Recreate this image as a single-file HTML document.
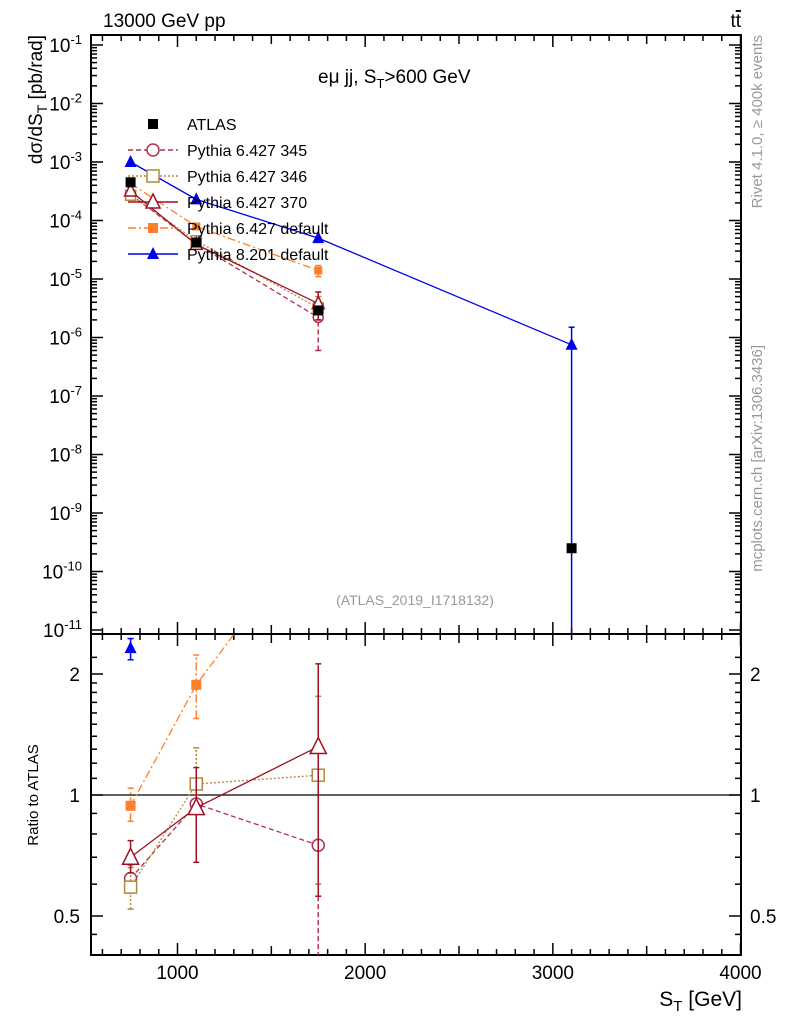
<!DOCTYPE html>
<html><head><meta charset="utf-8"><style>
body{margin:0;background:#fff;}
svg{display:block;font-family:"Liberation Sans",sans-serif;}
</style></head><body>
<svg id="c" width="786" height="1024" xmlns="http://www.w3.org/2000/svg"></svg>
<script>
const xs=[750,1100,1750,3100];
const atlas=[4.5e-4,4.2e-5,2.9e-6,2.5e-10];
const p8=[1.0e-3,2.3e-4,5.0e-5,7.5e-7];
const pdef=[4.3e-4,7.9e-5,1.4e-5];
const p345=[2.8e-4,4.0e-5,2.2e-6];
const p346=[2.7e-4,4.5e-5,3.2e-6];
const p370=[3.2e-4,3.9e-5,3.8e-6];
const rDef=[0.94,1.88,4.8];const rDefLo=[0.86,1.55,4.0];const rDefHi=[1.04,2.23,5.6];
const r345=[0.62,0.95,0.75];const r345Lo=[0.57,0.9,0.3];const r345Hi=[0.67,1.0,1.3];
const r346=[0.59,1.065,1.12];const r346Lo=[0.52,0.95,0.6];const r346Hi=[0.66,1.31,1.76];
const r370=[0.70,0.93,1.32];const r370Lo=[0.64,0.68,0.56];const r370Hi=[0.77,1.17,2.12];
const rP8=[2.32];const rP8Lo=[2.17];const rP8Hi=[2.45];
const svg=document.getElementById('c');
const NS='http://www.w3.org/2000/svg';
function el(t,a,p){const e=document.createElementNS(NS,t);for(const k in a)e.setAttribute(k,a[k]);(p||svg).appendChild(e);return e;}
const L=91,R=741,T=35,MB=634,RB=955;
const X=v=>177.5+(v-1000)*0.18767;
const Y=v=>45+(-1-Math.log10(v))*58.5;
const RY=v=>795-Math.log2(v)*121;
let f=el('rect',{x:L,y:T,width:R-L,height:MB-T,fill:'none',stroke:'#000','stroke-width':2});

f=el('rect',{x:L,y:MB,width:R-L,height:RB-MB,fill:'none',stroke:'#000','stroke-width':2});

for(let v=600;v<=4000;v+=100){const x=X(v);if(x<L+1||x>R+1)continue;const len=v%1000==0?12:(v%500==0?9:6);
 for(const yb of [MB,RB]) el('line',{x1:x,x2:x,y1:yb,y2:yb-len,stroke:'#000','stroke-width':1.5});
 el('line',{x1:x,x2:x,y1:T,y2:T+len,stroke:'#000','stroke-width':1.5});
 el('line',{x1:x,x2:x,y1:MB,y2:MB+len,stroke:'#000','stroke-width':1.5});
 if(v%1000==0){const t=el('text',{x:x,y:979,'font-size':19,'text-anchor':'middle'});t.textContent=v;}}
for(let e=-11;e<=-1;e++){for(let m=1;m<10;m++){const v=m*Math.pow(10,e);const y=Y(v);if(y<T||y>MB)continue;const len=m==1?12:6;
 el('line',{x1:L,x2:L+len,y1:y,y2:y,stroke:'#000','stroke-width':1.5});el('line',{x1:R,x2:R-len,y1:y,y2:y,stroke:'#000','stroke-width':1.5});}
 const t=el('text',{x:82,y:Y(Math.pow(10,e))+7,'font-size':19,'text-anchor':'end'});t.innerHTML='10<tspan dy="-8" font-size="13">'+e+'</tspan>';
 }
const rt=[0.45,0.5,0.6,0.7,0.8,0.9,1,1.1,1.2,1.3,1.4,1.5,1.6,1.7,1.8,1.9,2,2.2];
for(const v of rt){const y=RY(v);if(y<MB||y>RB)continue;const len=(v==0.5||v==1||v==2)?12:6;
 el('line',{x1:L,x2:L+len,y1:y,y2:y,stroke:'#000','stroke-width':1.5});el('line',{x1:R,x2:R-len,y1:y,y2:y,stroke:'#000','stroke-width':1.5});}
for(const v of [0.5,1,2]){for(const [x,a] of [[80,'end'],[750,'start']]){const t=el('text',{x:x,y:RY(v)+7,'font-size':19,'text-anchor':a});t.textContent=v;
 }}
el('line',{x1:L,x2:R,y1:RY(1),y2:RY(1),stroke:'#000','stroke-width':1.3});
const defs=el('defs',{});const c1=el('clipPath',{id:'cm'},defs);el('rect',{x:L,y:T,width:R-L,height:MB-T},c1);
const c2=el('clipPath',{id:'cr'},defs);el('rect',{x:L,y:MB,width:R-L,height:RB-MB},c2);
const gm=el('g',{'clip-path':'url(#cm)'});const gr=el('g',{'clip-path':'url(#cr)'});
function marker(g,type,x,y,col,s){s=s||6;
 if(type=='sq') return el('rect',{x:x-s,y:y-s,width:2*s,height:2*s,fill:col},g);
 if(type=='osq') return el('rect',{x:x-s,y:y-s,width:2*s,height:2*s,fill:'#fff',stroke:col,'stroke-width':1.5},g);
 if(type=='oc') return el('circle',{cx:x,cy:y,r:s,fill:'#fff',stroke:col,'stroke-width':1.5},g);
 if(type=='tri') return el('polygon',{points:`${x},${y-s-1} ${x-s},${y+s-1} ${x+s},${y+s-1}`,fill:col},g);
 if(type=='otri') return el('polygon',{points:`${x},${y-s-2} ${x-s-1},${y+s} ${x+s+1},${y+s}`,fill:'#fff',stroke:col,'stroke-width':1.5},g);}
function series(g,name,xsA,vals,fy,col,dash,type,lo,hi,s){
 const pts=vals.map((v,i)=>X(xsA[i])+','+fy(v)).join(' ');
 const pl=el('polyline',{points:pts,fill:'none',stroke:col,'stroke-width':1.3,'stroke-dasharray':dash},g);
 
 vals.forEach((v,i)=>{const x=X(xsA[i]);
  if(lo){const y1=fy(lo[i]),y2=fy(hi[i]);el('line',{x1:x,x2:x,y1:y1,y2:y2,stroke:col,'stroke-width':1.5,'stroke-dasharray':dash},g);
   el('line',{x1:x-3,x2:x+3,y1:y1,y2:y1,stroke:col,'stroke-width':1.5},g);el('line',{x1:x-3,x2:x+3,y1:y2,y2:y2,stroke:col,'stroke-width':1.5},g);}
  const m=marker(g,type,x,fy(v),col,s);});}
const cDef='#ff7f2a',c345='#b03050',c346='#b08a3a',c370='#a01020',cP8='#0000ee';
series(gm,'pythia8',xs,p8,Y,cP8,'','tri',[1e-3,2.3e-4,5e-5,1e-13],[1e-3,2.3e-4,5e-5,1.5e-6],6);
series(gm,'pythia6-default',xs.slice(0,3),pdef,Y,cDef,'8,3,2,3','sq',[4.3e-4,7.9e-5,1.1e-5],[4.3e-4,7.9e-5,1.7e-5],4);
series(gm,'pythia6-345',xs.slice(0,3),p345,Y,c345,'5,3','oc',[2.8e-4,4e-5,6e-7],[2.8e-4,4e-5,3e-6],5);
series(gm,'pythia6-346',xs.slice(0,3),p346,Y,c346,'2,2','osq',[2.7e-4,4.5e-5,2e-6],[2.7e-4,4.5e-5,5e-6],5);
series(gm,'pythia6-370',xs.slice(0,3),p370,Y,c370,'','otri',[3.2e-4,3.9e-5,2e-6],[3.2e-4,3.9e-5,6e-6],5);
xs.forEach((x,i)=>{const m=marker(gm,'sq',X(x),Y(atlas[i]),'#000',5);});
series(gr,'ratio-pythia8',xs.slice(0,1),rP8,RY,cP8,'','tri',rP8Lo,rP8Hi,6);
series(gr,'ratio-pythia6-default',xs.slice(0,3),rDef,RY,cDef,'8,3,2,3','sq',rDefLo,rDefHi,5);
series(gr,'ratio-pythia6-345',xs.slice(0,3),r345,RY,c345,'5,3','oc',r345Lo,r345Hi,6);
series(gr,'ratio-pythia6-346',xs.slice(0,3),r346,RY,c346,'2,2','osq',r346Lo,r346Hi,6);
series(gr,'ratio-pythia6-370',xs.slice(0,3),r370,RY,c370,'','otri',r370Lo,r370Hi,7);
const leg=[['ATLAS','#000','','sq'],['Pythia 6.427 345',c345,'5,3','oc'],['Pythia 6.427 346',c346,'2,2','osq'],['Pythia 6.427 370',c370,'','otri'],['Pythia 6.427 default',cDef,'8,3,2,3','sq'],['Pythia 8.201 default',cP8,'','tri']];
leg.forEach((l,i)=>{const y=124+i*26;const g=el('g',{});
 if(i>0) el('line',{x1:128,x2:178,y1:y,y2:y,stroke:l[1],'stroke-width':1.5,'stroke-dasharray':l[2]},g);
 marker(g,l[3],153,y,l[1],i==0||i==4?5:6);
 const t=el('text',{x:187,y:y+6,'font-size':16},g);t.textContent=l[0];});
function txt(s,a,name){const t=el('text',a);t.innerHTML=s;return t;}
txt('13000 GeV pp',{x:103,y:27,'font-size':19},'beam-label');
txt('t<tspan style="text-decoration:overline">t</tspan>',{x:741,y:27,'font-size':19,'text-anchor':'end'},'process-label');
txt('eμ jj, S<tspan dy="5" font-size="13">T</tspan><tspan dy="-5">&gt;600 GeV</tspan>',{x:318,y:83,'font-size':19},'cut-label');
txt('(ATLAS_2019_I1718132)',{x:415,y:605,'font-size':14,fill:'#999','text-anchor':'middle'},'analysis-id');
txt('dσ/dS<tspan dy="5" font-size="14">T</tspan><tspan dy="-5"> [pb/rad]</tspan>',{x:0,y:0,'font-size':19,'text-anchor':'end',transform:'translate(42,35) rotate(-90)'},'y-axis-title');
txt('Ratio to ATLAS',{x:0,y:0,'font-size':15,'text-anchor':'middle',transform:'translate(38,795) rotate(-90)'},'ratio-axis-title');
txt('S<tspan dy="5" font-size="15">T</tspan><tspan dy="-5"> [GeV]</tspan>',{x:742,y:1006,'font-size':21,'text-anchor':'end'},'x-axis-title');
txt('Rivet 4.1.0, ≥ 400k events',{x:0,y:0,'font-size':15,fill:'#999','text-anchor':'end',transform:'translate(762,35) rotate(-90)'},'rivet-label');
txt('mcplots.cern.ch [arXiv:1306.3436]',{x:0,y:0,'font-size':15,fill:'#999','text-anchor':'end',transform:'translate(762,345) rotate(-90)'},'mcplots-label');
</script>
</body></html>
